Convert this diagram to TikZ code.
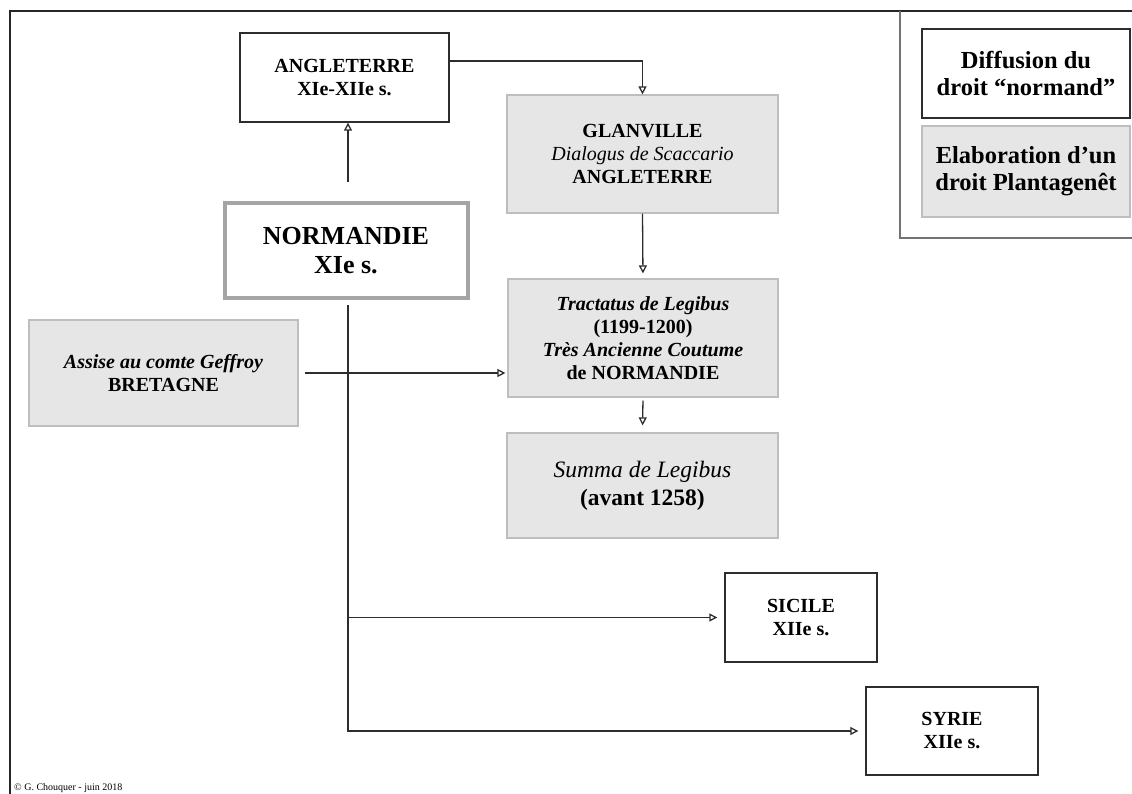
\documentclass[tikz,border=0pt]{standalone}
\usepackage{fontspec}
\setmainfont{Liberation Serif}
\usetikzlibrary{arrows.meta}
\definecolor{boxgray}{RGB}{230,230,230}
\definecolor{edgegray}{RGB}{190,190,190}
\definecolor{linedark}{RGB}{45,45,45}
\definecolor{normgray}{RGB}{165,165,165}
\tikzset{
  basefont/.style={font=\fontsize{20}{23}\selectfont\bfseries},
  whitebox/.style={draw=linedark, line width=1.4pt, fill=white, align=center, inner sep=0pt, basefont},
  graybox/.style={draw=edgegray, line width=1.2pt, fill=boxgray, align=center, inner sep=0pt, basefont},
  conn/.style={draw=linedark, line width=1.3pt, -{Triangle[open,length=8pt,width=8pt]}},
}
\begin{document}
\begin{tikzpicture}[x=1pt,y=-1pt]
\useasboundingbox (0,0) rectangle (1132,794);
% frame
\draw[line width=1.8pt, black!85] (10,794) -- (10,11) -- (1132,11);
\draw[line width=1.3pt, black!55] (900,11) -- (900,238) -- (1132,238);
% legend
\node[whitebox, minimum width=208pt, minimum height=89pt, font=\fontsize{24.5}{27}\selectfont\bfseries] (leg1) at (1026,73.5) {Diffusion du\\droit “normand”};
\node[graybox, minimum width=208pt, minimum height=91pt, font=\fontsize{24.5}{27}\selectfont\bfseries] (leg2) at (1026,171.5) {Elaboration d’un\\droit Plantagenêt};
% nodes
\node[whitebox, minimum width=209pt, minimum height=89pt] (ang) at (344.5,77.5) {ANGLETERRE\\XIe-XIIe s.};
\node[graybox, minimum width=271pt, minimum height=118pt] (gla) at (642.5,154) {GLANVILLE\\{\mdseries\itshape Dialogus de Scaccario}\\ANGLETERRE};
\node[draw=normgray, line width=4pt, fill=white, align=center, inner sep=0pt, minimum width=243pt, minimum height=94pt, font=\fontsize{26}{29}\selectfont\bfseries] (norm) at (346,250.5) {NORMANDIE\\XIe s.};
\node[graybox, minimum width=270pt, minimum height=118pt] (tra) at (643,338) {{\itshape Tractatus de Legibus}\\(1199-1200)\\{\itshape Très Ancienne Coutume}\\de NORMANDIE};
\node[graybox, minimum width=269pt, minimum height=106pt] (ass) at (163.5,373) {{\itshape Assise au comte Geffroy}\\BRETAGNE};
\node[graybox, minimum width=271pt, minimum height=105pt, font=\fontsize{23.5}{28}\selectfont\bfseries] (sum) at (642.5,485.5) {{\mdseries\itshape Summa de Legibus}\\(avant 1258)};
\node[whitebox, minimum width=152pt, minimum height=89pt] (sic) at (801,617.5) {SICILE\\XIIe s.};
\node[whitebox, minimum width=172pt, minimum height=88pt] (syr) at (952,731) {SYRIE\\XIIe s.};
% copyright
\node[anchor=base west, inner sep=0pt, font=\fontsize{10}{12}\selectfont] (copy) at (14,790) {© G. Chouquer - juin 2018};
% connectors
\draw[conn] ([yshift=16.5pt]ang.east) -| (gla.north);
\draw[conn] ([yshift=19pt,xshift=2pt]norm.north) -- ([xshift=2pt]norm.north |- ang.south);
\draw[conn, shorten >=5pt] (gla.south) -- (tra.north);
\draw[conn, shorten >=7pt, shorten <=3pt] (tra.south) -- (sum.north);
\draw[conn, shorten >=2pt, shorten <=6pt] (ass.east) -- (tra.west |- ass.east);
\draw[conn, shorten >=7pt] ([yshift=-5pt,xshift=2pt]norm.south) |- (syr.west);
\draw[conn, shorten >=7pt] ([xshift=2pt]norm.south |- sic.west) -- (sic.west);
\end{tikzpicture}
\end{document}
